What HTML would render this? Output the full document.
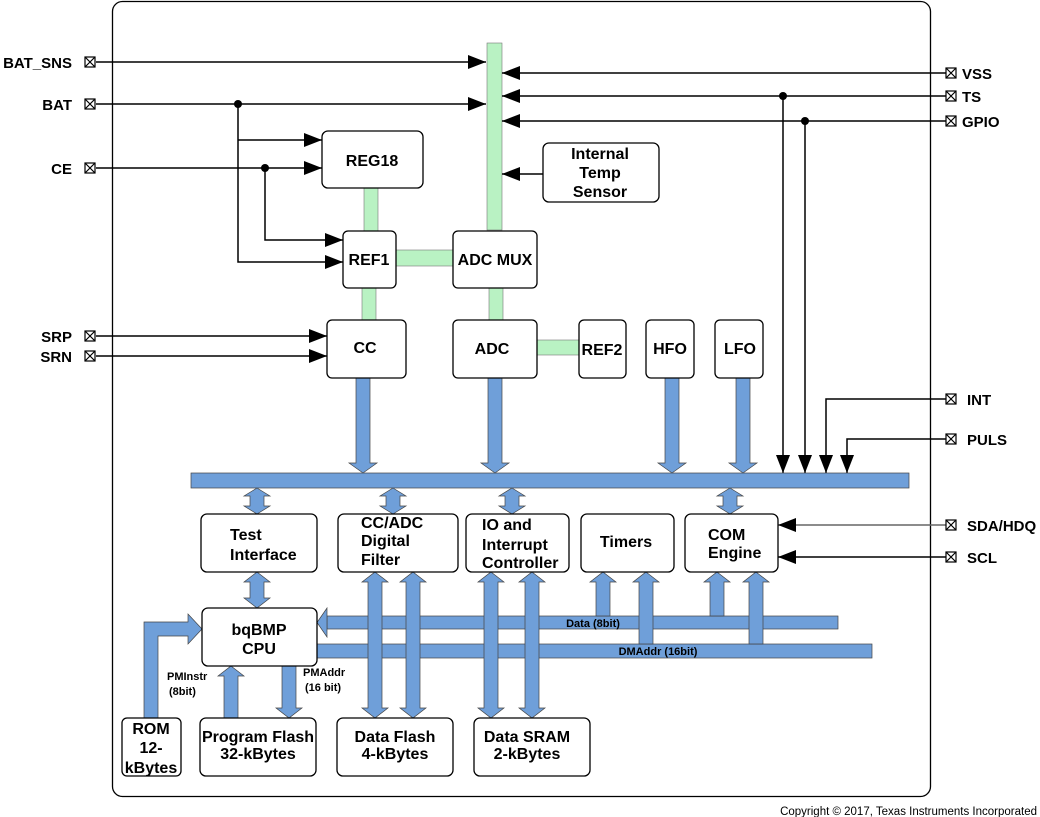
<!DOCTYPE html>
<html><head><meta charset="utf-8"><style>
html,body{margin:0;padding:0;background:#fff;}
svg{display:block;}
text{font-family:"Liberation Sans",Arial,sans-serif;font-weight:bold;fill:#000;}
</style></head><body>
<svg width="1040" height="817" viewBox="0 0 1040 817" xmlns="http://www.w3.org/2000/svg">
<defs>
<marker id="ah" markerUnits="userSpaceOnUse" markerWidth="18" markerHeight="14" refX="18" refY="7" orient="auto"><path d="M0,0 L18,7 L0,14 z" fill="#000"/></marker>
</defs>
<rect x="112.5" y="1.5" width="818" height="795" rx="10" fill="none" stroke="#000" stroke-width="1.3"/>

<g fill="#b9f2c3" stroke="#777" stroke-width="0.6">
<rect x="487" y="43" width="15" height="187"/>
<rect x="364" y="188" width="14" height="43"/>
<rect x="396" y="250" width="57" height="16"/>
<rect x="362" y="288" width="14" height="32"/>
<rect x="489" y="288" width="14" height="32"/>
<rect x="537" y="340" width="42" height="15"/>
</g>

<g stroke="#000" stroke-width="1.5" fill="none">
<line x1="96" y1="62" x2="486" y2="62" marker-end="url(#ah)"/>
<line x1="96" y1="104" x2="486" y2="104" marker-end="url(#ah)"/>
<polyline points="238,104 238,262 343,262" marker-end="url(#ah)"/>
<line x1="238" y1="140" x2="322" y2="140" marker-end="url(#ah)"/>
<line x1="96" y1="168" x2="322" y2="168" marker-end="url(#ah)"/>
<polyline points="265,168 265,240 343,240" marker-end="url(#ah)"/>
<line x1="96" y1="336" x2="327" y2="336" marker-end="url(#ah)"/>
<line x1="96" y1="356" x2="327" y2="356" marker-end="url(#ah)"/>
<line x1="946" y1="73" x2="502" y2="73" marker-end="url(#ah)"/>
<line x1="946" y1="96" x2="502" y2="96" marker-end="url(#ah)"/>
<line x1="946" y1="121" x2="502" y2="121" marker-end="url(#ah)"/>
<line x1="543" y1="174" x2="502" y2="174" marker-end="url(#ah)"/>
<line x1="783" y1="96" x2="783" y2="473" marker-end="url(#ah)"/>
<line x1="805" y1="121" x2="805" y2="473" marker-end="url(#ah)"/>
<polyline points="946,399 826,399 826,473" marker-end="url(#ah)"/>
<polyline points="946,439 847,439 847,473" marker-end="url(#ah)"/>
<line x1="946" y1="525" x2="778" y2="525" stroke="#666" marker-end="url(#ah)"/>
<line x1="946" y1="557" x2="778" y2="557" marker-end="url(#ah)"/>
</g>
<g fill="#000">
<circle cx="238" cy="104" r="4"/><circle cx="265" cy="168" r="4"/>
<circle cx="783" cy="96" r="4"/><circle cx="805" cy="121" r="4"/>
</g>

<g fill="#fff" stroke="#000" stroke-width="1.2">
<rect x="85" y="57" width="10" height="10"/><path d="M85,57 L95,67 M95,57 L85,67"/>
<rect x="85" y="99" width="10" height="10"/><path d="M85,99 L95,109 M95,99 L85,109"/>
<rect x="85" y="163" width="10" height="10"/><path d="M85,163 L95,173 M95,163 L85,173"/>
<rect x="85" y="331" width="10" height="10"/><path d="M85,331 L95,341 M95,331 L85,341"/>
<rect x="85" y="351" width="10" height="10"/><path d="M85,351 L95,361 M95,351 L85,361"/>
<rect x="946" y="68" width="10" height="10"/><path d="M946,68 L956,78 M956,68 L946,78"/>
<rect x="946" y="91" width="10" height="10"/><path d="M946,91 L956,101 M956,91 L946,101"/>
<rect x="946" y="116" width="10" height="10"/><path d="M946,116 L956,126 M956,116 L946,126"/>
<rect x="946" y="394" width="10" height="10"/><path d="M946,394 L956,404 M956,394 L946,404"/>
<rect x="946" y="434" width="10" height="10"/><path d="M946,434 L956,444 M956,434 L946,444"/>
<rect x="946" y="520" width="10" height="10"/><path d="M946,520 L956,530 M956,520 L946,530"/>
<rect x="946" y="552" width="10" height="10"/><path d="M946,552 L956,562 M956,552 L946,562"/>
</g>
<g font-size="15">
<text x="72" y="68" text-anchor="end">BAT_SNS</text>
<text x="72" y="110" text-anchor="end">BAT</text>
<text x="72" y="174" text-anchor="end">CE</text>
<text x="72" y="342" text-anchor="end">SRP</text>
<text x="72" y="362" text-anchor="end">SRN</text>
<text x="962" y="79">VSS</text>
<text x="962" y="102">TS</text>
<text x="962" y="127">GPIO</text>
<text x="967" y="405">INT</text>
<text x="967" y="445">PULS</text>
<text x="967" y="531">SDA/HDQ</text>
<text x="967" y="563">SCL</text>
</g>

<g fill="#6f9fd9" stroke="#444" stroke-width="0.7">
<rect x="191" y="473" width="718" height="15"/>
<rect x="327" y="616" width="511" height="13"/>
<polygon points="317,622.5 327,608 327,637"/>
<rect x="317" y="644" width="555" height="14"/>
<polygon points="356,378 370,378 370,463 377,463 363,473 349,463 356,463"/>
<polygon points="488,378 502,378 502,463 509,463 495,473 481,463 488,463"/>
<polygon points="665,378 679,378 679,463 686,463 672,473 658,463 665,463"/>
<polygon points="736,378 750,378 750,463 757,463 743,473 729,463 736,463"/>
<polygon points="257,488 270,496 264,496 264,506 270,506 257,514 244,506 250,506 250,496 244,496"/>
<polygon points="393,488 406,496 400,496 400,506 406,506 393,514 380,506 386,506 386,496 380,496"/>
<polygon points="512,488 525,496 519,496 519,506 525,506 512,514 499,506 505,506 505,496 499,496"/>
<polygon points="730,488 743,496 737,496 737,506 743,506 730,514 717,506 723,506 723,496 717,496"/>
<polygon points="257,572 270,582 264,582 264,598 270,598 257,608 244,598 250,598 250,582 244,582"/>
<polygon points="375,572 388,582 382,582 382,708 388,708 375,718 362,708 368,708 368,582 362,582"/>
<polygon points="413,572 426,582 420,582 420,708 426,708 413,718 400,708 406,708 406,582 400,582"/>
<polygon points="491,572 504,582 498,582 498,708 504,708 491,718 478,708 484,708 484,582 478,582"/>
<polygon points="532,572 545,582 539,582 539,708 545,708 532,718 519,708 525,708 525,582 519,582"/>
<polygon points="603,572 616,582 610,582 610,616 596,616 596,582 590,582"/>
<polygon points="646,572 659,582 653,582 653,644 639,644 639,582 633,582"/>
<polygon points="717,572 730,582 724,582 724,616 710,616 710,582 704,582"/>
<polygon points="756,572 769,582 763,582 763,644 749,644 749,582 743,582"/>
<polygon points="231,666 244,676 238,676 238,718 224,718 224,676 218,676"/>
<polygon points="282,666 296,666 296,708 302,708 289,718 276,708 282,708"/>
<polygon points="144,718 158,718 158,636 188,636 188,644 202,629 188,614 188,622 144,622"/>
</g>

<g fill="#fff" stroke="#000" stroke-width="1.3">
<rect x="322" y="131" width="101" height="57" rx="6"/>
<rect x="543" y="143" width="116" height="59" rx="6"/>
<rect x="343" y="231" width="53" height="57" rx="5"/>
<rect x="453" y="231" width="84" height="57" rx="5"/>
<rect x="327" y="320" width="79" height="58" rx="5"/>
<rect x="453" y="320" width="84" height="58" rx="5"/>
<rect x="579" y="320" width="47" height="58" rx="5"/>
<rect x="646" y="320" width="48" height="58" rx="5"/>
<rect x="715" y="320" width="48" height="58" rx="5"/>
<rect x="201" y="514" width="116" height="58" rx="6"/>
<rect x="338" y="514" width="120" height="58" rx="6"/>
<rect x="466" y="514" width="103" height="58" rx="6"/>
<rect x="581" y="514" width="93" height="58" rx="6"/>
<rect x="685" y="514" width="93" height="58" rx="6"/>
<rect x="202" y="608" width="115" height="58" rx="6"/>
<rect x="122" y="718" width="59" height="58" rx="5"/>
<rect x="200" y="718" width="116" height="58" rx="6"/>
<rect x="337" y="718" width="116" height="58" rx="6"/>
<rect x="474" y="718" width="116" height="58" rx="6"/>
</g>

<g font-size="16" text-anchor="middle">
<text x="372" y="166">REG18</text>
<text x="600" y="159">Internal</text>
<text x="600" y="178">Temp</text>
<text x="600" y="197">Sensor</text>
<text x="369" y="265">REF1</text>
<text x="495" y="265">ADC MUX</text>
<text x="365" y="353">CC</text>
<text x="492" y="354">ADC</text>
<text x="602" y="355">REF2</text>
<text x="670" y="354">HFO</text>
<text x="740" y="354">LFO</text>
<text x="626" y="547">Timers</text>
<text x="259" y="635">bqBMP</text>
<text x="259" y="654">CPU</text>
<text x="151" y="734">ROM</text>
<text x="151" y="753">12-</text>
<text x="151" y="773">kBytes</text>
<text x="258" y="742">Program Flash</text>
<text x="258" y="759">32-kBytes</text>
<text x="395" y="742">Data Flash</text>
<text x="395" y="759">4-kBytes</text>
<text x="527" y="742">Data SRAM</text>
<text x="527" y="759">2-kBytes</text>
</g>
<g font-size="16">
<text x="230" y="540">Test</text>
<text x="230" y="560">Interface</text>
<text x="361" y="528">CC/ADC</text>
<text x="361" y="546">Digital</text>
<text x="361" y="565">Filter</text>
<text x="482" y="530">IO and</text>
<text x="482" y="550">Interrupt</text>
<text x="482" y="568">Controller</text>
<text x="708" y="540">COM</text>
<text x="708" y="558">Engine</text>
</g>
<g font-size="11">
<text x="167" y="680">PMInstr</text>
<text x="169" y="695">(8bit)</text>
<text x="303" y="676">PMAddr</text>
<text x="305" y="691">(16 bit)</text>
<text x="593" y="627" text-anchor="middle">Data (8bit)</text>
<text x="658" y="655" text-anchor="middle">DMAddr (16bit)</text>
</g>
<text x="1037" y="815" font-size="11.5" text-anchor="end" style="font-weight:normal">Copyright © 2017, Texas Instruments Incorporated</text>
</svg>
</body></html>
